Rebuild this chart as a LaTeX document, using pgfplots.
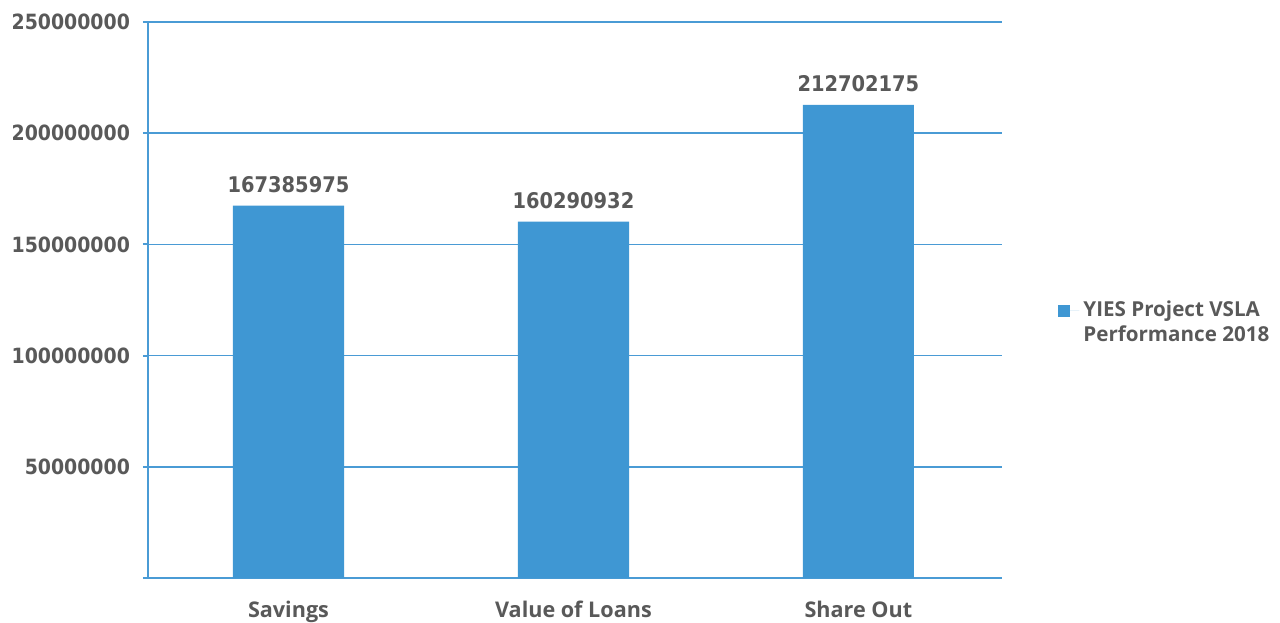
\documentclass[border=0pt]{standalone}
\usepackage{pgfplots}
\pgfplotsset{compat=1.18}
\usepackage{fontspec}
\setmainfont{Open Sans}
\newfontfamily\numfont{DejaVu Sans Condensed}
\definecolor{barblue}{RGB}{63,151,211}
\definecolor{gridblue}{RGB}{74,155,213}
\definecolor{txtgray}{RGB}{89,89,89}
\begin{document}
\begin{tikzpicture}
\path[use as bounding box] (-74pt,-22pt) rectangle (566pt,289pt);
\begin{axis}[
  scale only axis,
  width=427pt, height=278pt,
  xmin=-0.493, xmax=2.504,
  ymin=0, ymax=250000000,
  axis lines=left,
  axis line style={-, gridblue, line width=1pt},
  xtick={0,1,2},
  xticklabels={Savings,Value of Loans,Share Out},
  x tick style={draw=none},
  ytick={0,50000000,100000000,150000000,200000000,250000000},
  yticklabels={{},50000000,100000000,150000000,200000000,250000000},
  scaled y ticks=false,
  y tick style={gridblue, line width=1pt},
  tick align=outside,
  major tick length=2.5pt,
  ymajorgrids,
  grid style={gridblue, line width=0.8pt},
  yticklabel style={font=\numfont\bfseries\fontsize{10.5}{12}\selectfont, text=txtgray, xshift=-3pt},
  xticklabel style={font=\bfseries\fontsize{10.8}{13}\selectfont, text=txtgray, yshift=-5.5pt},
  ybar,
  bar width=0.39,
  nodes near coords,
  point meta=explicit symbolic,
  nodes near coords style={font=\numfont\bfseries\fontsize{10.8}{12}\selectfont, text=txtgray, yshift=3pt},
  legend style={draw=none, fill=none, inner sep=0pt, at={(axis description cs:1.0656,0.4586)}, anchor=west,
    font=\bfseries\fontsize{10.3}{13}\selectfont, text=txtgray, row sep=-1pt},
  legend cell align=left,
  legend image code/.code={\fill[barblue] (0pt,-3pt) rectangle (6pt,3pt); \path (0pt,0pt) -- (10.5pt,0pt);},
]
\addplot[fill=barblue, draw=none] coordinates {
  (0,167385975) [167385975]
  (1,160290932) [160290932]
  (2,212702175) [212702175]
};
\addlegendentry{YIES Project VSLA}
\addlegendimage{empty legend}
\addlegendentry{Performance 2018}
\end{axis}
\end{tikzpicture}
\end{document}
